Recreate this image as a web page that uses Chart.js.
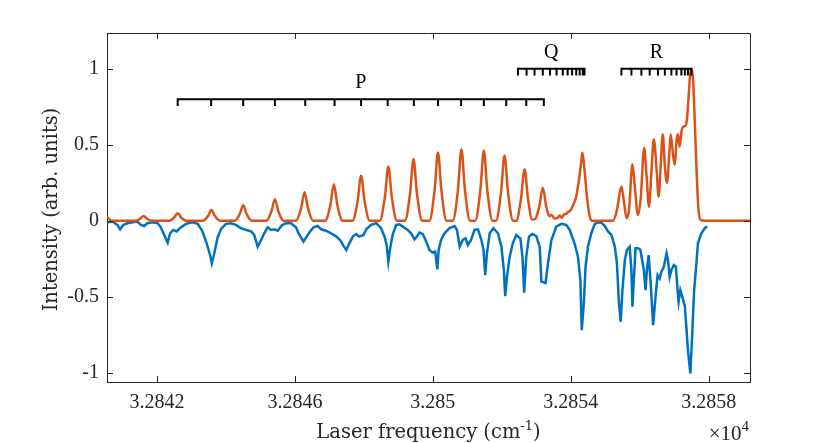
<!DOCTYPE html>
<html>
<head>
<meta charset="utf-8">
<script src="https://cdn.jsdelivr.net/npm/chart.js@4.4.1/dist/chart.umd.min.js"></script>
<style>
  html, body { margin: 0; padding: 0; background: #fff; }
  canvas { display: block; }
</style>
</head>
<body>
<canvas id="spectrum" width="829" height="443"></canvas>
<script>
// simulated spectrum (orange), frequency in cm-1
const SIM_FREQ = [
  32840.55, 32840.70,
  32841.37, 32841.51, 32841.61, 32841.71, 32841.85,
  32842.35, 32842.50, 32842.60, 32842.70, 32842.85,
  32843.33, 32843.48, 32843.58, 32843.68, 32843.83,
  32844.25, 32844.40, 32844.50, 32844.60, 32844.75,
  32845.17, 32845.32, 32845.42, 32845.52, 32845.67,
  32846.03, 32846.18, 32846.28, 32846.38, 32846.53,
  32846.88, 32847.03, 32847.13, 32847.23, 32847.38,
  32847.67, 32847.82, 32847.92, 32848.02, 32848.17,
  32848.46, 32848.61, 32848.71, 32848.81, 32848.96,
  32849.19, 32849.34, 32849.44, 32849.54, 32849.69,
  32849.90, 32850.05, 32850.15, 32850.25, 32850.40,
  32850.58, 32850.73, 32850.83, 32850.93, 32851.08,
  32851.23, 32851.38, 32851.48, 32851.58, 32851.73,
  32851.83, 32851.98, 32852.08, 32852.18, 32852.33,
  32852.42, 32852.56, 32852.66, 32852.76, 32852.88,
  32852.97, 32853.09, 32853.19, 32853.29, 32853.38,
  32853.44, 32853.53, 32853.62, 32853.68, 32853.74, 32853.80, 32853.87, 32853.93, 32853.98,
  32854.07, 32854.16, 32854.24, 32854.30, 32854.34, 32854.40, 32854.47, 32854.55, 32854.63,
  32855.23, 32855.34, 32855.47, 32855.55, 32855.62, 32855.69, 32855.79, 32855.86, 32855.95,
  32856.03, 32856.13, 32856.20, 32856.27, 32856.34, 32856.41, 32856.49, 32856.55, 32856.61,
  32856.67, 32856.73, 32856.79, 32856.85, 32856.90, 32856.97, 32857.02, 32857.07, 32857.11,
  32857.16, 32857.22, 32857.28, 32857.34, 32857.38, 32857.42, 32857.46, 32857.50, 32857.55,
  32857.60, 32857.65, 32857.70, 32857.76, 32857.89, 32859.20
];
const SIM_INT = [
  0.025, 0,
  0, 0.014, 0.032, 0.014, 0,
  0, 0.022, 0.05, 0.022, 0,
  0, 0.031, 0.071, 0.031, 0,
  0, 0.045, 0.102, 0.045, 0,
  0, 0.063, 0.142, 0.063, 0,
  0, 0.083, 0.188, 0.083, 0,
  0, 0.106, 0.24, 0.106, 0,
  0, 0.131, 0.297, 0.131, 0,
  0, 0.157, 0.357, 0.157, 0,
  0, 0.179, 0.407, 0.179, 0,
  0, 0.198, 0.449, 0.198, 0,
  0, 0.207, 0.471, 0.207, 0,
  0, 0.203, 0.462, 0.203, 0,
  0, 0.189, 0.429, 0.189, 0,
  0, 0.149, 0.339, 0.149, 0.008,
  0.012, 0.096, 0.218, 0.096, 0.03,
  0.04, 0.015, 0.02, 0.035, 0.02, 0.04, 0.045, 0.06, 0.065,
  0.104, 0.16, 0.27, 0.38, 0.449, 0.335, 0.16, 0.03, 0,
  0, 0.071, 0.225, 0.115, 0.017, 0.07, 0.372, 0.225, 0.038,
  0.148, 0.478, 0.295, 0.093, 0.316, 0.537, 0.339, 0.159, 0.361,
  0.57, 0.361, 0.251, 0.405, 0.57, 0.427, 0.368, 0.53, 0.57,
  0.488, 0.598, 0.62, 0.63, 0.686, 0.818, 0.949, 0.998, 0.927,
  0.64, 0.333, 0.093, 0.007, 0, 0
];

// measured spectrum (blue), plotted downwards
const EXP_FREQ = [
  32840.55, 32840.71, 32840.85, 32840.93, 32841.02, 32841.14, 32841.29, 32841.43, 32841.53, 32841.63,
  32841.72, 32841.87, 32842.02, 32842.11, 32842.21, 32842.31, 32842.38, 32842.47, 32842.57, 32842.69,
  32842.84, 32843.03, 32843.18, 32843.32, 32843.44, 32843.54, 32843.59, 32843.66, 32843.76, 32843.86,
  32844.00, 32844.15, 32844.29, 32844.44, 32844.58, 32844.73, 32844.82, 32844.92, 32845.02, 32845.11,
  32845.21, 32845.31, 32845.40, 32845.50, 32845.63, 32845.74, 32845.89, 32846.03, 32846.13, 32846.25,
  32846.34, 32846.44, 32846.54, 32846.66, 32846.76, 32846.90, 32847.05, 32847.20, 32847.31, 32847.41,
  32847.49, 32847.58, 32847.68, 32847.78, 32847.87, 32847.99, 32848.07, 32848.21, 32848.36, 32848.50,
  32848.60, 32848.66, 32848.71, 32848.77, 32848.84, 32848.94, 32849.03, 32849.13, 32849.27, 32849.37,
  32849.47, 32849.54, 32849.61, 32849.71, 32849.81, 32849.90, 32850.00, 32850.07, 32850.13, 32850.17,
  32850.24, 32850.34, 32850.48, 32850.63, 32850.70, 32850.78, 32850.87, 32850.95, 32851.02, 32851.11,
  32851.21, 32851.31, 32851.41, 32851.47, 32851.52, 32851.57, 32851.65, 32851.76, 32851.89, 32851.99,
  32852.06, 32852.10, 32852.15, 32852.23, 32852.32, 32852.42, 32852.54, 32852.60, 32852.65, 32852.71,
  32852.79, 32852.89, 32853.00, 32853.10, 32853.15, 32853.27, 32853.34, 32853.44, 32853.58, 32853.73,
  32853.87, 32853.97, 32854.11, 32854.21, 32854.28, 32854.32, 32854.38, 32854.43, 32854.50, 32854.60,
  32854.70, 32854.79, 32854.89, 32854.99, 32855.08, 32855.18, 32855.28, 32855.34, 32855.40, 32855.45,
  32855.50, 32855.57, 32855.63, 32855.71, 32855.76, 32855.79, 32855.83, 32855.88, 32855.95, 32856.02,
  32856.07, 32856.12, 32856.17, 32856.21, 32856.26, 32856.32, 32856.39, 32856.46, 32856.52, 32856.58,
  32856.63, 32856.70, 32856.78, 32856.82, 32856.87, 32856.92, 32856.99, 32857.05, 32857.10, 32857.13,
  32857.18, 32857.24, 32857.31, 32857.36, 32857.40, 32857.47, 32857.52, 32857.58, 32857.63, 32857.69,
  32857.79, 32857.89, 32857.96
];
const EXP_INT = [
  -0.012, -0.005, -0.027, -0.056, -0.027, -0.016, -0.01, -0.005, -0.027, -0.034,
  -0.016, -0.01, -0.016, -0.043, -0.093, -0.144, -0.082, -0.06, -0.07, -0.043,
  -0.02, -0.01, -0.02, -0.07, -0.148, -0.225, -0.28, -0.215, -0.108, -0.053,
  -0.02, -0.016, -0.027, -0.049, -0.06, -0.07, -0.093, -0.17, -0.126, -0.082,
  -0.043, -0.06, -0.056, -0.065, -0.027, -0.016, -0.016, -0.043, -0.093, -0.137,
  -0.104, -0.07, -0.043, -0.034, -0.056, -0.065, -0.082, -0.104, -0.126, -0.165,
  -0.192, -0.148, -0.104, -0.087, -0.104, -0.093, -0.056, -0.027, -0.016, -0.049,
  -0.104, -0.159, -0.269, -0.17, -0.088, -0.027, -0.023, -0.038, -0.06, -0.082,
  -0.122, -0.104, -0.078, -0.087, -0.137, -0.192, -0.21, -0.203, -0.319, -0.192,
  -0.126, -0.082, -0.049, -0.034, -0.06, -0.17, -0.126, -0.115, -0.159, -0.126,
  -0.06, -0.056, -0.126, -0.192, -0.357, -0.214, -0.082, -0.049, -0.082, -0.17,
  -0.324, -0.495, -0.368, -0.236, -0.148, -0.093, -0.115, -0.236, -0.473, -0.236,
  -0.104, -0.087, -0.1, -0.17, -0.4, -0.41, -0.28, -0.126, -0.038, -0.02,
  -0.027, -0.06, -0.148, -0.236, -0.39, -0.719, -0.543, -0.302, -0.17, -0.08,
  -0.02, -0.01, -0.012, -0.035, -0.07, -0.093, -0.17, -0.28, -0.543, -0.664,
  -0.456, -0.258, -0.192, -0.17, -0.323, -0.565, -0.389, -0.18, -0.18, -0.19,
  -0.258, -0.323, -0.456, -0.323, -0.225, -0.412, -0.686, -0.5, -0.357, -0.379,
  -0.335, -0.302, -0.214, -0.258, -0.368, -0.324, -0.291, -0.302, -0.456, -0.533,
  -0.456, -0.5, -0.565, -0.719, -0.851, -1.004, -0.763, -0.456, -0.323, -0.148,
  -0.082, -0.049, -0.038
];

// rotational line assignments (bracket tick positions)
const P_LINES = [32842.60, 32843.57, 32844.50, 32845.42, 32846.30, 32847.15, 32847.92, 32848.69,
                 32849.45, 32850.15, 32850.82, 32851.48, 32852.13, 32852.71, 32853.22];
const Q_LINES = [32852.47, 32852.72, 32852.95, 32853.19, 32853.40, 32853.59, 32853.77, 32853.91,
                 32854.04, 32854.16, 32854.26, 32854.35, 32854.40];
const R_LINES = [32855.47, 32855.76, 32856.05, 32856.29, 32856.53, 32856.73, 32856.92, 32857.07,
                 32857.21, 32857.31, 32857.40, 32857.50];
const BRANCH_NAMES = ['P', 'Q', 'R'];
const BRANCH_LEVELS = [0.8, 1.0, 1.0];

const X_TICKS = [32842, 32846, 32850, 32854, 32858];
const X_TICK_LABELS = ['3.2842', '3.2846', '3.285', '3.2854', '3.2858'];
const Y_TICKS = [-1, -0.5, 0, 0.5, 1];
const Y_TICK_LABELS = ['-1', '-0.5', '0', '0.5', '1'];

const X_MIN = 32840.55, X_MAX = 32859.2;
const Y_MIN = -1.06, Y_MAX = 1.235;

const AXIS_COLOR = '#262626';
const TICK_LEN = 6;
const BRACKET_DROP = 0.045;
const TICK_FONT = '"Liberation Serif", serif';
const TITLE_FONT = '"DejaVu Serif", serif';

function toPoints(xs, ys) {
    return xs.map((x, i) => ({ x: x, y: ys[i] }));
}

// comb shaped bracket: horizontal bar with short drops at every line
function bracketPoints(lines, level) {
    let low = level - BRACKET_DROP;
    let pts = [{ x: lines[0], y: low }, { x: lines[0], y: level }];
    for (let i = 1; i < lines.length; i++) {
        pts.push({ x: lines[i], y: level }, { x: lines[i], y: low }, { x: lines[i], y: level });
    }
    return pts;
}

const bracketSets = [P_LINES, Q_LINES, R_LINES].map((lines, i) => ({
    label: BRANCH_NAMES[i],
    data: bracketPoints(lines, BRANCH_LEVELS[i]),
    borderColor: '#000000',
    borderWidth: 2,
    pointRadius: 0,
    tension: 0,
    borderJoinStyle: 'miter',
    borderCapStyle: 'butt',
    order: 0
}));

// MATLAB style box: inward ticks on all four sides, titles, branch letters
const matlabBox = {
    id: 'matlabBox',
    afterDraw(chart) {
        const ctx = chart.ctx;
        const a = chart.chartArea;
        const xs = chart.scales.x, ys = chart.scales.y;
        ctx.save();
        ctx.strokeStyle = AXIS_COLOR;
        ctx.lineWidth = 1;
        ctx.beginPath();
        ctx.moveTo(a.left, a.top + 0.5);
        ctx.lineTo(a.right + 0.5, a.top + 0.5);
        ctx.lineTo(a.right + 0.5, a.bottom);
        X_TICKS.forEach(v => {
            let px = Math.round(xs.getPixelForValue(v)) + 0.5;
            ctx.moveTo(px, a.bottom); ctx.lineTo(px, a.bottom - TICK_LEN);
            ctx.moveTo(px, a.top); ctx.lineTo(px, a.top + TICK_LEN);
        });
        Y_TICKS.forEach(v => {
            let py = Math.round(ys.getPixelForValue(v)) + 0.5;
            ctx.moveTo(a.left, py); ctx.lineTo(a.left + TICK_LEN, py);
            ctx.moveTo(a.right, py); ctx.lineTo(a.right - TICK_LEN, py);
        });
        ctx.stroke();

        // branch letters above each bracket
        ctx.fillStyle = '#000000';
        ctx.font = '20px ' + TICK_FONT;
        ctx.textAlign = 'center';
        ctx.textBaseline = 'alphabetic';
        [P_LINES, Q_LINES, R_LINES].forEach((lines, i) => {
            let mid = (lines[0] + lines[lines.length - 1]) / 2;
            ctx.fillText(BRANCH_NAMES[i], xs.getPixelForValue(mid), ys.getPixelForValue(BRANCH_LEVELS[i]) - 11);
        });

        // x title with superscript
        ctx.fillStyle = AXIS_COLOR;
        ctx.textAlign = 'left';
        let main = 'Laser frequency (cm', sup = '-1', close = ')';
        ctx.font = '19.5px ' + TITLE_FONT;
        let w1 = ctx.measureText(main).width, w3 = ctx.measureText(close).width;
        ctx.font = '13px ' + TITLE_FONT;
        let w2 = ctx.measureText(sup).width;
        let sx = (a.left + a.right) / 2 - (w1 + w2 + w3) / 2;
        let base = 438;
        ctx.font = '19.5px ' + TITLE_FONT;
        ctx.fillText(main, sx, base);
        ctx.fillText(close, sx + w1 + w2, base);
        ctx.font = '13px ' + TITLE_FONT;
        ctx.fillText(sup, sx + w1, base - 8);

        // exponent marker
        ctx.textAlign = 'right';
        ctx.font = '15px ' + TICK_FONT;
        let w4 = ctx.measureText('4').width;
        ctx.fillText('4', a.right - 1, base - 7);
        ctx.font = '21px ' + TICK_FONT;
        ctx.fillText('\u00d710', a.right - 1 - w4, base + 2);

        // y title
        ctx.translate(52, (a.top + a.bottom) / 2 + 2);
        ctx.rotate(-Math.PI / 2);
        ctx.textAlign = 'center';
        ctx.textBaseline = 'middle';
        ctx.font = '19.5px ' + TITLE_FONT;
        ctx.fillText('Intensity (arb. units)', 0, 0);
        ctx.restore();
    }
};

new Chart(document.getElementById('spectrum'), {
    type: 'line',
    data: {
        datasets: [
            ...bracketSets,
            {
                label: 'Simulation',
                data: toPoints(SIM_FREQ, SIM_INT),
                borderColor: '#D95319',
                borderWidth: 2.5,
                pointRadius: 0,
                cubicInterpolationMode: 'monotone',
                order: 1
            },
            {
                label: 'Experiment',
                data: toPoints(EXP_FREQ, EXP_INT),
                borderColor: '#0072BD',
                borderWidth: 2.5,
                pointRadius: 0,
                tension: 0,
                order: 2
            }
        ]
    },
    options: {
        responsive: false,
        animation: false,
        layout: { padding: { left: 0, top: 33, right: 79, bottom: 0 } },
        plugins: { legend: { display: false }, tooltip: { enabled: false } },
        scales: {
            x: {
                type: 'linear',
                min: X_MIN,
                max: X_MAX,
                afterFit(s) { s.height = 61; },
                afterBuildTicks(s) { s.ticks = X_TICKS.map(v => ({ value: v })); },
                grid: { display: false, drawTicks: false },
                border: { display: true, color: AXIS_COLOR, width: 1 },
                ticks: {
                    padding: 9,
                    autoSkip: false,
                    maxRotation: 0,
                    color: AXIS_COLOR,
                    font: { family: TICK_FONT, size: 20 },
                    callback: (v, i) => X_TICK_LABELS[i]
                }
            },
            y: {
                type: 'linear',
                min: Y_MIN,
                max: Y_MAX,
                afterFit(s) { s.width = 107; },
                afterBuildTicks(s) { s.ticks = Y_TICKS.map(v => ({ value: v })); },
                grid: { display: false, drawTicks: false },
                border: { display: true, color: AXIS_COLOR, width: 1 },
                ticks: {
                    padding: 8,
                    autoSkip: false,
                    color: AXIS_COLOR,
                    font: { family: TICK_FONT, size: 20 },
                    callback: (v, i) => Y_TICK_LABELS[i]
                }
            }
        }
    },
    plugins: [matlabBox]
});
</script>
</body>
</html>
